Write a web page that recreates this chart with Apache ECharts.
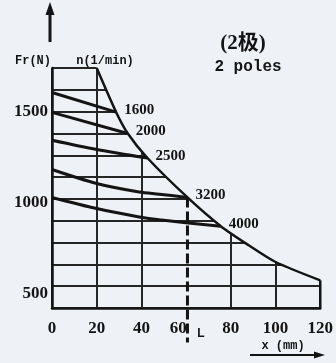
<!DOCTYPE html>
<html><head><meta charset="utf-8">
<script src="https://cdn.jsdelivr.net/npm/echarts@6/dist/echarts.min.js"></script>
<style>html,body{margin:0;padding:0;background:#eef1f6;}#c{width:336px;height:363px;}</style>
</head><body><div id="c"></div>
<script>
// ---- data ----
const speedNames = ['1600', '2000', '2500', '3200', '4000'];
const curve1600 = [[0, 1605], [28.7, 1497]];
const curve2000 = [[0, 1496], [33.9, 1380]];
const curve2500 = [[0, 1343], [20, 1292], [42.7, 1245]];
const curve3200 = [[0, 1182], [20, 1105], [39, 1058], [48, 1046], [60.6, 1028]];
const curve4000 = [[0, 1028], [20, 967], [39, 921], [48, 905], [75.5, 870]];
const envelope = [[20, 1740], [28.7, 1497], [33.9, 1380], [42.7, 1245], [60.6, 1028], [75.5, 870], [88, 765], [100, 673], [120, 572]];
const xTickLabels = [0, 20, 40, 60, 80, 100, 120];
const xGridLines = [0, 20, 40, 80, 100];
const yTickLabels = [500, 1000, 1500];
const yGridLines = [420, 540, 660, 780, 900, 1020, 1140, 1260, 1380, 1500, 1620, 1740];
const lLineBottom = 230;

const curves = [curve1600, curve2000, curve2500, curve3200, curve4000];
const BG = '#eef1f6';
const INK = '#141414';
const serif = 'Liberation Serif';

const chart = echarts.init(document.getElementById('c'), null, {renderer: 'canvas'});

const lEnd = curve3200[curve3200.length - 1];
const envStart = envelope[0];
const envEnd = envelope[envelope.length - 1];
const xMax = xTickLabels[xTickLabels.length - 1];
const yMin = yGridLines[0];
const yMax = yGridLines[yGridLines.length - 1];

const series = [
  { // mask hiding grid line ends outside the envelope (top and right edges)
    type: 'line', name: 'mask', data: [envStart, [xMax, yMax], [xMax, envEnd[1]]], symbol: 'none', z: 3, clip: false,
    lineStyle: {color: BG, width: 5}, silent: true
  },
  {
    type: 'line', name: 'envelope', data: envelope, smooth: 0.25, symbol: 'none', z: 3,
    lineStyle: {color: INK, width: 2.5},
    areaStyle: {origin: 'end', color: BG, opacity: 1},
    silent: true
  },
  {
    type: 'line', name: 'border', data: [[xMax, yMin], envEnd],
    symbol: 'none', z: 4, lineStyle: {color: INK, width: 2.5}, silent: true
  },
  {
    type: 'line', name: 'L', data: [lEnd, [lEnd[0], lLineBottom]], symbol: 'none', z: 4, clip: false,
    lineStyle: {color: INK, width: 3, type: [10, 4]},
    silent: true
  }
];
curves.forEach((c, i) => {
  series.push({
    type: 'line', name: speedNames[i], data: c, smooth: 0.3, symbol: 'none', z: 5,
    lineStyle: {color: INK, width: 3},
    endLabel: {show: true, formatter: '{a}', fontFamily: serif, fontWeight: 'bold', fontSize: 15, color: INK, distance: 8, offset: [0, -2]},
    silent: true
  });
});

const txt = (text, x, y, font) => ({type: 'text', z: 20, style: {text, x, y, align: 'center', verticalAlign: 'middle', font, fill: INK}});

chart.setOption({
  backgroundColor: BG,
  animation: false,
  grid: {left: 52, right: 14, top: 68, bottom: 55},
  xAxis: {
    type: 'value', min: 0, max: xMax,
    axisLine: {show: true, lineStyle: {color: INK, width: 2.5}},
    axisTick: {show: false, customValues: xGridLines},
    axisLabel: {
      customValues: xTickLabels, fontFamily: serif, fontWeight: 'bold', fontSize: 17, color: INK, margin: 12, offset: [-4, 0],
      formatter: v => (v === 60 ? '{s|' + v + '}' : String(v)),
      rich: {s: {fontFamily: serif, fontWeight: 'bold', fontSize: 17, color: INK, padding: [0, 16, 0, 0]}}
    },
    splitLine: {show: true, lineStyle: {color: '#262626', width: 2}}
  },
  yAxis: {
    type: 'value', min: yMin, max: yMax,
    axisLine: {show: true, lineStyle: {color: INK, width: 2.5}},
    axisTick: {show: false, customValues: yGridLines},
    axisLabel: {customValues: yTickLabels, fontFamily: serif, fontWeight: 'bold', fontSize: 17, color: INK, margin: 4, formatter: v => String(v)},
    splitLine: {show: true, lineStyle: {color: '#262626', width: 2}}
  },
  series: series,
  graphic: [
    {type: 'line', z: 20, shape: {x1: 50, y1: 42, x2: 50, y2: 12}, style: {stroke: INK, lineWidth: 3}},
    {type: 'polygon', z: 20, shape: {points: [[50, 2], [45.5, 15], [54.5, 15]]}, style: {fill: INK}},
    {type: 'line', z: 20, shape: {x1: 250, y1: 355, x2: 316, y2: 355}, style: {stroke: INK, lineWidth: 2}},
    {type: 'polygon', z: 20, shape: {points: [[325, 355], [314, 351.5], [314, 358.5]]}, style: {fill: INK}},
    txt('Fr(N)', 33, 61, 'bold 12px "Liberation Mono"'),
    txt('n(1/min)', 105, 61, 'bold 12px "Liberation Mono"'),
    txt('(2极)', 243, 44, 'bold 21px "Liberation Serif", "Noto Sans CJK SC"'),
    txt('2 poles', 248, 67, 'bold 16px "Liberation Mono"'),
    txt('x (mm)', 283, 346, 'bold 12px "Liberation Mono"'),
    txt('L', 201, 334, 'bold 12px "Liberation Sans"')
  ]
});
</script></body></html>
